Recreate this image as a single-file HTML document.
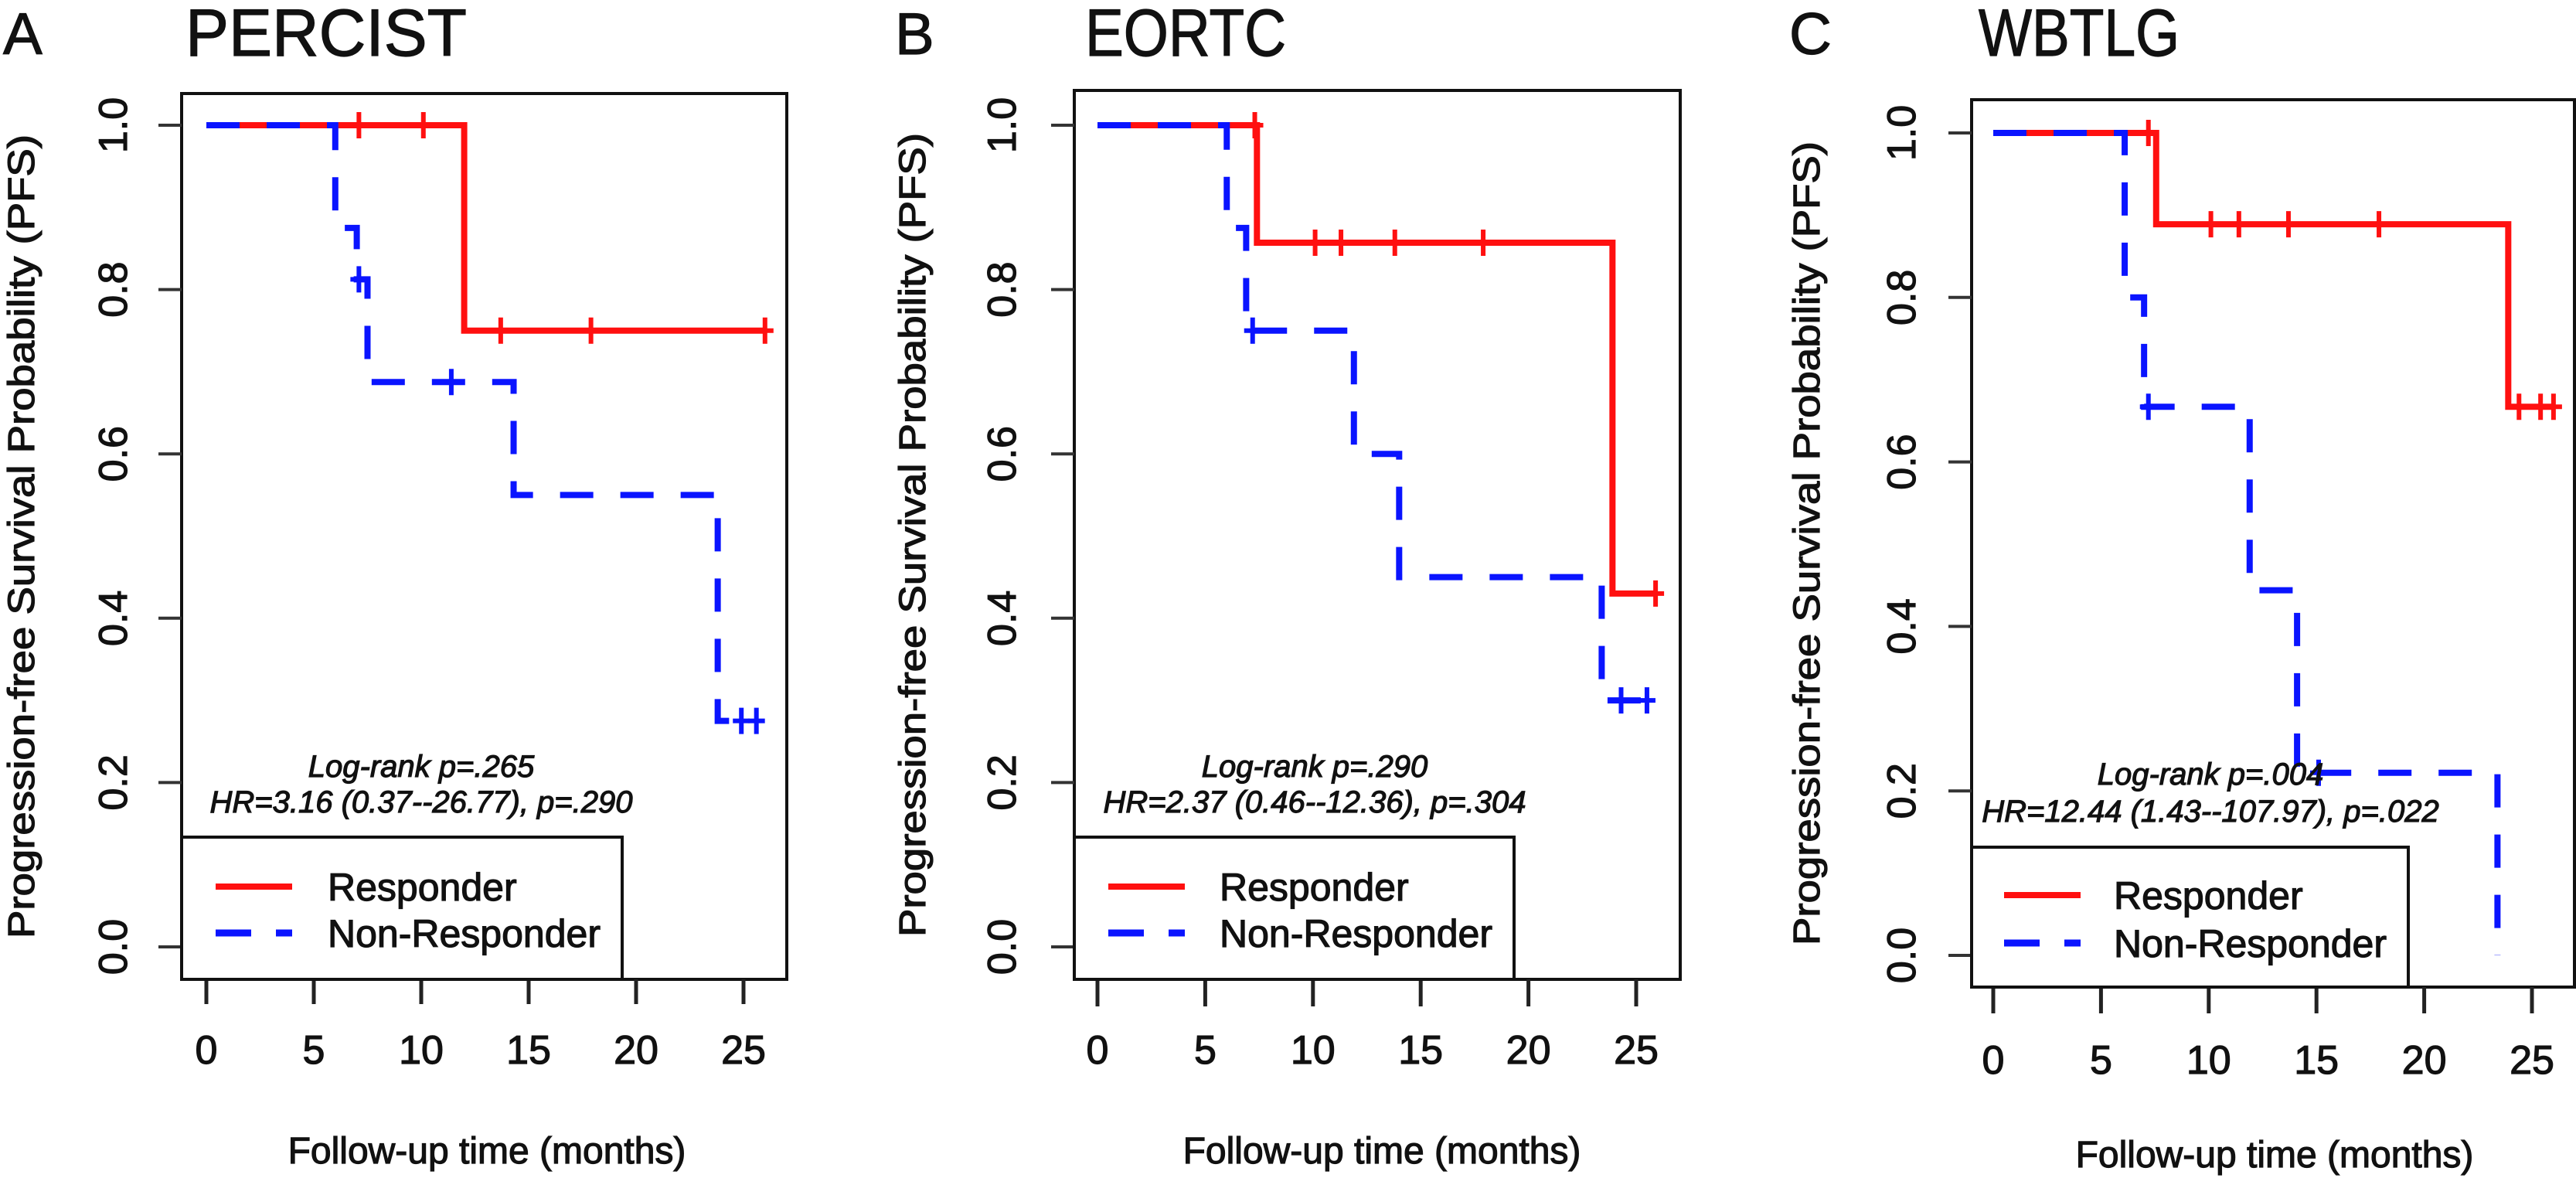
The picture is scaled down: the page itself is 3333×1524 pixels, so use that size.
<!DOCTYPE html>
<html><head><meta charset="utf-8">
<style>
html,body{margin:0;padding:0;background:#fff;}
svg{display:block;}
text{font-family:"Liberation Sans",sans-serif;fill:#111;stroke:#111;stroke-width:1.2px;}
</style></head>
<body>
<svg id="fig" width="3333" height="1524" viewBox="0 0 3333 1524" xmlns="http://www.w3.org/2000/svg"></svg>
<script>
// ---- data ----
const xTickLabels = [0, 5, 10, 15, 20, 25];
const yTickLabels = [0.0, 0.2, 0.4, 0.6, 0.8, 1.0];
const panelLetters = ["A", "B", "C"];
const panelTitles = ["PERCIST", "EORTC", "WBTLG"];
const logrankText = ["Log-rank p=.265", "Log-rank p=.290", "Log-rank p=.004"];
const hrText = ["HR=3.16 (0.37--26.77), p=.290", "HR=2.37 (0.46--12.36), p=.304", "HR=12.44 (1.43--107.97), p=.022"];

// Panel A
const aRespTimes = [12.0];
const aRespSurv = [0.75];
const aRespCensor = [7.1, 10.1, 13.7, 17.9, 26.0];
const aNonTimes = [6.0, 7.0, 7.5, 14.3, 23.8];
const aNonSurv = [0.875, 0.8125, 0.6875, 0.55, 0.275];
const aNonCensor = [7.1, 11.4, 24.9, 25.6];
// Panel B
const bRespTimes = [7.4, 23.9];
const bRespSurv = [0.857, 0.43];
const bRespCensor = [7.3, 10.1, 11.3, 13.8, 17.9, 25.9];
const bNonTimes = [6.0, 6.9, 11.9, 14.0, 23.4];
const bNonSurv = [0.875, 0.75, 0.6, 0.45, 0.3];
const bNonCensor = [7.2, 24.3, 25.5];
// Panel C
const cRespTimes = [7.56, 23.9];
const cRespSurv = [0.889, 0.667];
const cRespCensor = [7.2, 10.1, 11.4, 13.7, 17.9, 24.4, 25.4, 26.0];
const cNonTimes = [6.1, 7.0, 11.9, 14.1, 23.4];
const cNonSurv = [0.8, 0.667, 0.444, 0.222, 0.0];
const cNonCensor = [7.2, 15.1];

// ---- layout (pixel geometry, not data) ----
const layout = [
  {box:[235,121,1018,1267], x0:267, x25:962, y0:1225, y1:162, tickB:1299, tickLab:1376, xTitleY:1505, xTitleX:630, yTitleX:44, yLabX:164, letterX:4, titleX:240, titleY:72, legR:805, legT:1083, legY1:1147, legY2:1207, legLx:279, legTx:424, annX:545, annY1:1005, annY2:1051},
  {box:[1390,117,2174,1267], x0:1420, x25:2117, y0:1225, y1:162, tickB:1302, tickLab:1376, xTitleY:1505, xTitleX:1788, yTitleX:1197, yLabX:1314, letterX:1158, titleX:1404, titleY:72, legR:1959, legT:1083, legY1:1147, legY2:1207, legLx:1434, legTx:1578, annX:1701, annY1:1005, annY2:1051},
  {box:[2551,129,3331,1277], x0:2579, x25:3276, y0:1236, y1:172, tickB:1311, tickLab:1389, xTitleY:1510, xTitleX:2943, yTitleX:2354, yLabX:2478, letterX:2315, titleX:2560, titleY:72, legR:3116, legT:1096, legY1:1158, legY2:1220, legLx:2593, legTx:2735, annX:2860, annY1:1015, annY2:1063}
];
const series = [
  {rt:aRespTimes, rs:aRespSurv, rc:aRespCensor, nt:aNonTimes, ns:aNonSurv, nc:aNonCensor},
  {rt:bRespTimes, rs:bRespSurv, rc:bRespCensor, nt:bNonTimes, ns:bNonSurv, nc:bNonCensor},
  {rt:cRespTimes, rs:cRespSurv, rc:cRespCensor, nt:cNonTimes, ns:cNonSurv, nc:cNonCensor}
];

const NS = "http://www.w3.org/2000/svg";
const svg = document.getElementById("fig");
function mk(tag, attrs, parent){
  const e = document.createElementNS(NS, tag);
  for (const k in attrs) e.setAttribute(k, attrs[k]);
  (parent||svg).appendChild(e);
  return e;
}
function survAt(times, surv, t){
  let s = 1;
  for (let i=0;i<times.length;i++){ if (times[i] <= t) s = surv[i]; }
  return s;
}

layout.forEach((L, p) => {
  const g = mk("g", {});
  
  
  const xs = t => L.x0 + (L.x25 - L.x0) * t / 25;
  const ys = v => L.y0 + (L.y1 - L.y0) * v;

  const letter = mk("text", {x:L.letterX, y:L.titleY-2, "font-size":76}, g);
  letter.textContent = panelLetters[p];
  
  
  const title = mk("text", {x:L.titleX, y:L.titleY, "font-size":86, "textLength": panelTitles[p].length*52, lengthAdjust:"spacingAndGlyphs"}, g);
  title.textContent = panelTitles[p];
  
  

  const [bl, bt, br, bb] = L.box;
  const frame = mk("rect", {x:bl, y:bt, width:br-bl, height:bb-bt, fill:"none", stroke:"#111", "stroke-width":4}, g);
  
  

  yTickLabels.forEach(v => {
    const y = ys(v);
    const tk = mk("line", {x1:bl-30, x2:bl, y1:y, y2:y, stroke:"#333", "stroke-width":4}, g);
    
    
    const tl = mk("text", {x:0, y:0, "font-size":52, "text-anchor":"middle", transform:`translate(${L.yLabX},${y}) rotate(-90)`}, g);
    tl.textContent = v.toFixed(1);
    
    
  });
  xTickLabels.forEach(v => {
    const x = xs(v);
    const tk = mk("line", {x1:x, x2:x, y1:bb, y2:L.tickB, stroke:"#222", "stroke-width":5}, g);
    
    
    const tl = mk("text", {x:x, y:L.tickLab, "font-size":52, "text-anchor":"middle"}, g);
    tl.textContent = String(v);
    
    
  });
  const xt = mk("text", {x:L.xTitleX, y:L.xTitleY, "font-size":48, "text-anchor":"middle"}, g);
  xt.textContent = "Follow-up time (months)";
  
  
  const yt = mk("text", {x:0, y:0, "font-size":48, "text-anchor":"middle", transform:`translate(${L.yTitleX},${(bt+bb)/2}) rotate(-90)`, textLength:1040, lengthAdjust:"spacingAndGlyphs"}, g);
  yt.textContent = "Progression-free Survival Probability (PFS)";
  
  

  const S = series[p];
  function curve(times, surv, censor, color, dash, name){
    let end = Math.max(times[times.length-1], censor.length ? censor[censor.length-1] : 0);
    let d = `M${xs(0)},${ys(1)}`;
    for (let i=0;i<times.length;i++){ d += ` H${xs(times[i])} V${ys(surv[i])}`; }
    if (surv[surv.length-1] > 0) d += ` H${xs(end)}`;
    const attrs = {d:d, fill:"none", stroke:color, "stroke-width":8, "stroke-linejoin":"miter"};
    if (dash) attrs["stroke-dasharray"] = "43 35";
    const path = mk("path", attrs, g);
    
    
    censor.forEach(t => {
      const cx = xs(t), cy = ys(survAt(times, surv, t));
      const m = mk("path", {d:`M${cx-11},${cy} H${cx+11} M${cx},${cy-17} V${cy+17}`, stroke:color, "stroke-width":6, fill:"none"}, g);
      
      
    });
  }
  curve(S.rt, S.rs, S.rc, "#ff1010", false, "responder");
  curve(S.nt, S.ns, S.nc, "#0a14ff", true, "non-responder");

  const a1 = mk("text", {x:L.annX, y:L.annY1, "font-size":40, "font-style":"italic", "text-anchor":"middle"}, g);
  a1.textContent = logrankText[p];
  
  
  const a2 = mk("text", {x:L.annX, y:L.annY2, "font-size":40, "font-style":"italic", "text-anchor":"middle"}, g);
  a2.textContent = hrText[p];
  
  

  const lg = mk("g", {}, g);
  
  
  mk("rect", {x:bl, y:L.legT, width:L.legR-bl, height:bb-L.legT, fill:"#fff", stroke:"#111", "stroke-width":4}, lg);
  const l1 = mk("line", {x1:L.legLx, x2:L.legLx+99, y1:L.legY1, y2:L.legY1, stroke:"#ff1010", "stroke-width":8}, lg);
  
  
  const t1 = mk("text", {x:L.legTx, y:L.legY1+18, "font-size":50}, lg);
  t1.textContent = "Responder";
  
  
  const l2 = mk("line", {x1:L.legLx, x2:L.legLx+99, y1:L.legY2, y2:L.legY2, stroke:"#0a14ff", "stroke-width":9, "stroke-dasharray":"46 32"}, lg);
  
  
  const t2 = mk("text", {x:L.legTx, y:L.legY2+18, "font-size":50}, lg);
  t2.textContent = "Non-Responder";
  
  
});
</script>
</body></html>
